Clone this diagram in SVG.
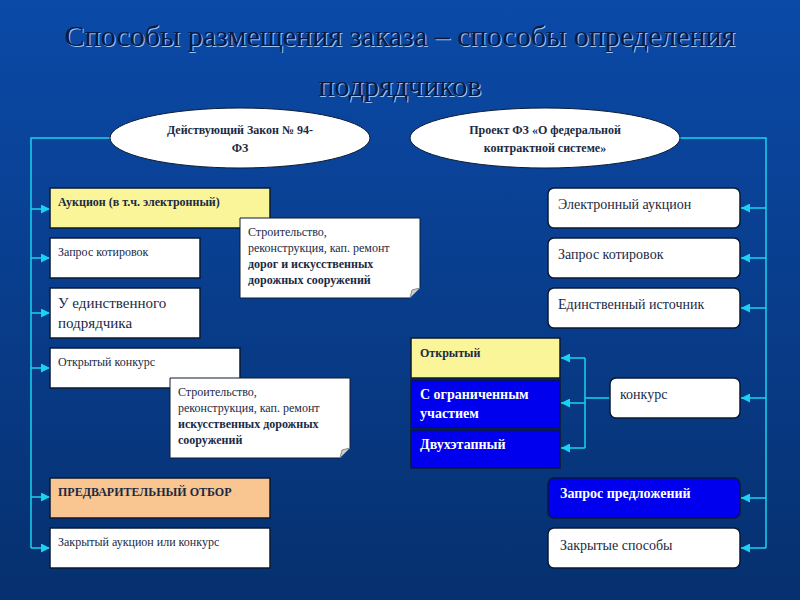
<svg xmlns="http://www.w3.org/2000/svg" width="800" height="600" viewBox="0 0 800 600">
<defs>
<linearGradient id="bg" x1="0" y1="0" x2="0" y2="1"><stop offset="0" stop-color="#0b4aa8"/><stop offset="1" stop-color="#06306f"/></linearGradient>
<marker id="ar" viewBox="0 0 10 10" refX="10" refY="5" markerWidth="6" markerHeight="6" orient="auto"><path d="M0,0L10,5L0,10z" fill="#19d3f0"/></marker>
<style>
text{font-family:"Liberation Serif","Times New Roman","DejaVu Serif",serif}
.t{fill:#1a2a44}
.b{font-weight:bold}
.w{fill:#fff}
.bx{stroke:#0a1a33;stroke-width:1.5}
.c{fill:none;stroke:#19d3f0;stroke-width:1.5}
.h{font-size:30px;text-anchor:middle}
</style>
</defs>
<rect width="800" height="600" fill="url(#bg)"/>
<text class="h" x="401" y="47" fill="#9fc4f0">Способы размещения заказа – способы определения</text>
<text class="h" x="401" y="97" fill="#9fc4f0">подрядчиков</text>
<text class="h" x="400" y="46" fill="#0a1a44">Способы размещения заказа – способы определения</text>
<text class="h" x="400" y="96" fill="#0a1a44">подрядчиков</text>
<g id="connectors">
<path class="c" d="M110,138H31V548"/>
<path class="c" d="M31,209H50" marker-end="url(#ar)"/><path class="c" d="M31,258H50" marker-end="url(#ar)"/>
<path class="c" d="M31,313H50" marker-end="url(#ar)"/><path class="c" d="M31,368H50" marker-end="url(#ar)"/>
<path class="c" d="M31,497H50" marker-end="url(#ar)"/><path class="c" d="M31,548H50" marker-end="url(#ar)"/>
<path class="c" d="M680,138H766V548"/>
<path class="c" d="M766,208H741" marker-end="url(#ar)"/><path class="c" d="M766,258H741" marker-end="url(#ar)"/>
<path class="c" d="M766,308H741" marker-end="url(#ar)"/><path class="c" d="M766,398H741" marker-end="url(#ar)"/>
<path class="c" d="M766,498H741" marker-end="url(#ar)"/><path class="c" d="M766,548H741" marker-end="url(#ar)"/>
<path class="c" d="M610,398H585M585,358V448"/>
<path class="c" d="M585,358H561" marker-end="url(#ar)"/><path class="c" d="M585,403H561" marker-end="url(#ar)"/><path class="c" d="M585,448H561" marker-end="url(#ar)"/>
</g>
<g id="law94"><ellipse cx="240" cy="138" rx="130" ry="30" fill="#fff" stroke="#0a1a33"/><text class="t b" x="240" y="134" text-anchor="middle" font-size="12">Действующий Закон № 94-</text><text class="t b" x="240" y="152" text-anchor="middle" font-size="12">ФЗ</text></g>
<g id="proj"><ellipse cx="545" cy="138" rx="135" ry="30" fill="#fff" stroke="#0a1a33"/><text class="t b" x="545" y="134" text-anchor="middle" font-size="12">Проект ФЗ «О федеральной</text><text class="t b" x="545" y="152" text-anchor="middle" font-size="12">контрактной системе»</text></g>
<g id="l1"><rect class="bx" x="50" y="188" width="220" height="40" fill="#fbf59a"/><text class="t b" x="58" y="206" font-size="12">Аукцион (в т.ч. электронный)</text></g>
<g id="l2"><rect class="bx" x="50" y="238" width="150" height="40" fill="#fff"/><text class="t" x="58" y="256" font-size="12">Запрос котировок</text></g>
<g id="l3"><rect class="bx" x="50" y="288" width="150" height="50" fill="#fff"/><text class="t" x="58" y="308" font-size="15">У единственного</text><text class="t" x="58" y="328" font-size="15">подрядчика</text></g>
<g id="l4"><rect class="bx" x="50" y="348" width="190" height="40" fill="#fff"/><text class="t" x="58" y="366" font-size="12">Открытый конкурс</text></g>
<g id="l5"><rect class="bx" x="50" y="478" width="220" height="40" fill="#f9c590"/><text class="t b" x="58" y="496" font-size="12">ПРЕДВАРИТЕЛЬНЫЙ ОТБОР</text></g>
<g id="l6"><rect class="bx" x="50" y="528" width="220" height="40" fill="#fff"/><text class="t" x="58" y="546" font-size="12">Закрытый аукцион или конкурс</text></g>
<g id="n1"><path d="M240,218H420V288L410,298H240Z" fill="#fff" stroke="#0a1a33"/><path d="M410,298L412,290L420,288" fill="#ccc" stroke="#888"/>
<text class="t" x="248" y="236" font-size="12">Строительство,</text><text class="t" x="248" y="252" font-size="12">реконструкция, кап. ремонт</text><text class="t b" x="248" y="268" font-size="12">дорог и искусственных</text><text class="t b" x="248" y="284" font-size="12">дорожных сооружений</text></g>
<g id="n2"><path d="M170,378H350V448L340,458H170Z" fill="#fff" stroke="#0a1a33"/><path d="M340,458L342,450L350,448" fill="#ccc" stroke="#888"/>
<text class="t" x="178" y="396" font-size="12">Строительство,</text><text class="t" x="178" y="412" font-size="12">реконструкция, кап. ремонт</text><text class="t b" x="178" y="428" font-size="12">искусственных дорожных</text><text class="t b" x="178" y="444" font-size="12">сооружений</text></g>
<g id="m1"><rect class="bx" x="411" y="338" width="149" height="40" fill="#fbf59a"/><text class="t b" x="420" y="357" font-size="12">Открытый</text></g>
<g id="m2"><rect class="bx" x="411" y="380" width="149" height="48" fill="#0000ee"/><text class="t b w" x="420" y="399" font-size="14">С ограниченным</text><text class="t b w" x="420" y="418" font-size="14">участием</text></g>
<g id="m3"><rect class="bx" x="411" y="430" width="149" height="38" fill="#0000ee"/><text class="t b w" x="420" y="449" font-size="14">Двухэтапный</text></g>
<g id="r1"><rect class="bx" x="548" y="188" width="192" height="40" rx="6" fill="#fff"/><text class="t" x="558" y="209" font-size="14">Электронный аукцион</text></g>
<g id="r2"><rect class="bx" x="548" y="238" width="192" height="40" rx="6" fill="#fff"/><text class="t" x="558" y="259" font-size="14">Запрос котировок</text></g>
<g id="r3"><rect class="bx" x="548" y="288" width="192" height="40" rx="6" fill="#fff"/><text class="t" x="558" y="309" font-size="14">Единственный источник</text></g>
<g id="r4"><rect class="bx" x="610" y="378" width="130" height="40" rx="6" fill="#fff"/><text class="t" x="620" y="399" font-size="14">конкурс</text></g>
<g id="r5"><rect class="bx" x="548" y="478" width="192" height="40" rx="6" fill="#0000ee"/><text class="t b w" x="560" y="498" font-size="14">Запрос предложений</text></g>
<g id="r6"><rect class="bx" x="548" y="528" width="192" height="40" rx="6" fill="#fff"/><text class="t" x="560" y="550" font-size="14">Закрытые способы</text></g>
</svg>
